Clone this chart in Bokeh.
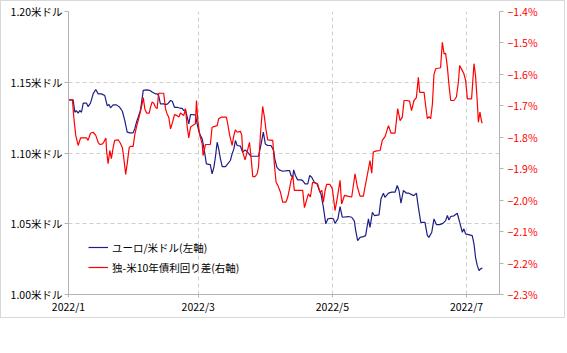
from bokeh.plotting import figure
from bokeh.models import (Range1d, LinearAxis, FixedTicker, CustomJSTickFormatter,
                          ColumnDataSource)
from bokeh.embed import file_html
from bokeh.resources import INLINE

# ---- data (x = days since 2022-01-01) ----
eur_days = [0.0, 2.1, 2.9, 3.6, 4.4, 5.1, 5.9, 6.7, 8.2, 8.9, 10.0, 11.2, 12.4, 13.5, 15.0,
            16.5, 17.6, 18.5, 19.1, 20.3, 21.8, 23.3, 24.5, 25.6, 26.7, 27.9, 29.4, 30.1,
            30.9, 31.7, 32.7, 34.0, 35.5, 37.0, 38.2, 39.5, 40.3, 41.0, 41.8, 43.3, 44.1,
            45.1, 46.4, 47.2, 48.2, 49.4, 50.9, 51.7, 52.4, 53.2, 54.0, 54.7, 55.5, 57.7,
            58.5, 59.2, 60.0, 60.8, 61.5, 62.0, 62.7, 64.5, 65.3, 66.1, 66.8, 67.6, 68.3,
            69.1, 69.9, 71.4, 72.4, 73.6, 74.4, 75.2, 75.9, 76.7, 78.2, 79.2, 80.3, 81.5,
            83.0, 86.4, 87.6, 88.6, 89.5, 90.6, 92.1, 93.3, 93.8, 94.8, 95.8, 97.4, 99.7,
            100.5, 101.2, 102.0, 102.4, 103.2, 104.2, 105.8, 106.5, 107.6, 108.8, 109.7,
            110.6, 111.8, 113.0, 114.1, 114.8, 115.9, 117.0, 117.9, 119.4, 120.5, 121.2,
            122.5, 123.5, 124.5, 127.3, 128.8, 130.0, 130.6, 131.5, 132.6, 134.1, 135.1,
            136.4, 137.1, 138.2, 139.1, 141.2, 142.1, 143.2, 143.9, 145.5, 147.0, 148.5,
            149.5, 150.3, 151.2, 152.3, 153.7, 154.8, 156.0, 157.1, 158.2, 159.1, 160.2,
            162.1, 163.2, 163.9, 165.2, 166.2, 167.3, 168.8, 170.3, 171.5, 172.3, 173.0,
            173.8, 175.3, 176.8, 177.9, 179.1, 179.8, 180.6, 183.6, 184.4, 185.1, 185.9,
            186.7, 187.4, 188.2]
eur_usd = [1.1376, 1.1376, 1.1288, 1.1300, 1.1281, 1.1300, 1.1288, 1.1352, 1.1352, 1.1328,
           1.1352, 1.1418, 1.1449, 1.1418, 1.1418, 1.1406, 1.1335, 1.1342, 1.1319, 1.1340,
           1.1340, 1.1323, 1.1295, 1.1229, 1.1147, 1.1142, 1.1142, 1.1170, 1.1217, 1.1253,
           1.1300, 1.1442, 1.1446, 1.1442, 1.1430, 1.1418, 1.1418, 1.1406, 1.1347, 1.1347,
           1.1342, 1.1347, 1.1371, 1.1366, 1.1323, 1.1323, 1.1316, 1.1316, 1.1300, 1.1305,
           1.1253, 1.1206, 1.1272, 1.1270, 1.1206, 1.1159, 1.1123, 1.1100, 1.1041, 1.0994,
           1.0923, 1.0918, 1.0853, 1.0899, 1.0970, 1.1076, 1.1029, 1.0959, 1.0904, 1.0904,
           1.0923, 1.0947, 1.0994, 1.1029, 1.1088, 1.1053, 1.1048, 1.1005, 1.1022, 1.1005,
           1.0977, 1.0977, 1.1064, 1.1147, 1.1064, 1.1053, 1.1053, 1.1017, 1.0959, 1.0899,
           1.0881, 1.0871, 1.0876, 1.0876, 1.0841, 1.0829, 1.0881, 1.0841, 1.0810, 1.0810,
           1.0805, 1.0782, 1.0782, 1.0841, 1.0829, 1.0793, 1.0782, 1.0735, 1.0711, 1.0617,
           1.0499, 1.0534, 1.0539, 1.0534, 1.0503, 1.0534, 1.0621, 1.0546, 1.0551, 1.0546,
           1.0518, 1.0452, 1.0381, 1.0404, 1.0409, 1.0416, 1.0534, 1.0475, 1.0581, 1.0558,
           1.0563, 1.0676, 1.0716, 1.0687, 1.0716, 1.0723, 1.0723, 1.0770, 1.0735, 1.0645,
           1.0735, 1.0716, 1.0716, 1.0706, 1.0699, 1.0716, 1.0617, 1.0510, 1.0510, 1.0416,
           1.0404, 1.0440, 1.0534, 1.0494, 1.0494, 1.0503, 1.0522, 1.0558, 1.0527, 1.0551,
           1.0556, 1.0574, 1.0510, 1.0440, 1.0464, 1.0428, 1.0416, 1.0358, 1.0263, 1.0204,
           1.0169, 1.0181, 1.0188]

spr_days = [0.0, 1.8, 2.4, 3.3, 4.4, 5.5, 6.7, 8.2, 8.9, 10.0, 11.2, 12.4, 13.5, 14.2, 15.5,
            16.0, 17.0, 17.3, 18.0, 18.8, 19.5, 20.3, 21.0, 22.6, 23.6, 24.5, 25.1, 26.0,
            26.7, 27.6, 28.2, 29.4, 30.1, 30.9, 32.1, 33.2, 34.0, 34.7, 35.5, 36.7, 37.3,
            38.0, 38.8, 39.5, 40.3, 41.0, 43.3, 44.1, 44.8, 45.6, 46.4, 47.2, 48.2, 49.4,
            50.2, 50.9, 52.4, 53.2, 54.0, 54.7, 55.5, 56.3, 57.7, 58.2, 58.8, 59.7, 60.8,
            61.2, 62.3, 64.5, 65.3, 66.1, 67.6, 68.3, 69.4, 71.8, 72.4, 73.3, 74.4, 75.2,
            75.9, 76.7, 78.2, 78.8, 79.2, 80.3, 81.2, 82.3, 83.0, 83.8, 84.8, 85.8, 86.4,
            87.3, 88.3, 89.1, 89.8, 90.6, 92.9, 93.6, 94.4, 95.2, 96.4, 97.4, 98.9, 99.7,
            100.5, 101.2, 102.0, 102.7, 106.5, 107.3, 108.0, 109.1, 110.0, 111.0, 113.3,
            114.4, 115.2, 115.9, 116.7, 117.4, 118.9, 120.0, 121.2, 122.3, 123.5, 124.2,
            125.5, 127.3, 128.8, 130.3, 131.4, 132.6, 134.1, 134.8, 136.0, 137.1, 137.9,
            138.6, 139.7, 141.7, 142.7, 144.0, 145.5, 146.7, 148.5, 149.7, 150.8, 151.8,
            152.6, 154.1, 155.1, 156.0, 157.1, 158.2, 159.1, 159.7, 161.7, 162.4, 163.2,
            163.9, 164.7, 165.5, 166.2, 167.0, 169.2, 170.0, 170.8, 171.5, 172.3, 173.0,
            173.8, 175.3, 176.4, 177.3, 177.9, 179.1, 179.8, 180.6, 181.4, 183.3, 184.4,
            185.1, 185.9, 186.4, 187.1, 187.9, 188.2]
spread = [-1.681, -1.681, -1.736, -1.794, -1.826, -1.802, -1.802, -1.802, -1.810, -1.787,
          -1.784, -1.794, -1.816, -1.823, -1.821, -1.816, -1.802, -1.842, -1.884, -1.842,
          -1.868, -1.833, -1.810, -1.808, -1.819, -1.833, -1.863, -1.918, -1.884, -1.833,
          -1.829, -1.829, -1.794, -1.768, -1.736, -1.704, -1.674, -1.709, -1.723, -1.723,
          -1.704, -1.688, -1.692, -1.704, -1.709, -1.660, -1.660, -1.709, -1.725, -1.736,
          -1.773, -1.755, -1.728, -1.731, -1.736, -1.723, -1.731, -1.709, -1.768, -1.802,
          -1.768, -1.763, -1.757, -1.683, -1.747, -1.794, -1.821, -1.858, -1.823, -1.823,
          -1.768, -1.766, -1.763, -1.741, -1.736, -1.736, -1.757, -1.794, -1.826, -1.794,
          -1.776, -1.784, -1.781, -1.794, -1.847, -1.872, -1.847, -1.816, -1.863, -1.925,
          -1.925, -1.916, -1.895, -1.789, -1.702, -1.736, -1.776, -1.808, -1.810, -1.884,
          -1.943, -1.953, -1.975, -2.006, -2.006, -1.990, -1.964, -1.937, -1.922, -1.969,
          -1.969, -2.024, -2.006, -1.980, -1.990, -1.943, -1.948, -1.975, -1.969, -2.006,
          -1.969, -1.950, -1.950, -1.964, -2.033, -1.990, -1.937, -2.012, -1.985, -1.988,
          -1.990, -1.916, -1.959, -1.987, -1.987, -1.959, -1.916, -1.874, -1.914, -1.847,
          -1.844, -1.842, -1.810, -1.797, -1.763, -1.787, -1.787, -1.709, -1.747, -1.736,
          -1.683, -1.683, -1.685, -1.715, -1.683, -1.674, -1.609, -1.657, -1.657, -1.699,
          -1.741, -1.734, -1.741, -1.694, -1.600, -1.582, -1.579, -1.498, -1.535, -1.533,
          -1.577, -1.632, -1.683, -1.683, -1.672, -1.625, -1.572, -1.588, -1.598, -1.619,
          -1.678, -1.678, -1.566, -1.604, -1.688, -1.752, -1.720, -1.752, -1.755]

x_tick_days = [0, 59, 120, 181]
x_tick_labels = ["2022/1", "2022/3", "2022/5", "2022/7"]
left_ticks = [1.00, 1.05, 1.10, 1.15, 1.20]
right_ticks = [-2.3, -2.2, -2.1, -2.0, -1.9, -1.8, -1.7, -1.6, -1.5, -1.4]
label_eur = "ユーロ/米ドル(左軸)"
label_spr = "独-米10年債利回り差(右軸)"

FONT = "Noto Sans CJK JP"
FS = "10.5px"
BLUE = "#1e1e88"
RED = "#ff0000"
AXIS_C = "#b4b4b4"
GRID_C = "#cfcfcf"

p = figure(width=565, height=318, output_backend="svg", toolbar_location=None,
           x_range=Range1d(0, 196), y_range=Range1d(1.0, 1.2),
           min_border_left=67, min_border_right=67, min_border_top=10,
           min_border_bottom=25)
p.styles = {"border": "1px solid #d9d9d9"}
p.outline_line_color = None
p.extra_y_ranges = {"right": Range1d(-2.3, -1.4)}

src_e = ColumnDataSource(dict(x=eur_days, y=eur_usd))
src_s = ColumnDataSource(dict(x=spr_days, y=spread))
p.line("x", "y", source=src_e, color=BLUE, line_width=1.2, legend_label=label_eur)
p.line("x", "y", source=src_s, color=RED, line_width=1.2, y_range_name="right",
       legend_label=label_spr)

# x axis
xa = p.xaxis[0]
xa.ticker = FixedTicker(ticks=x_tick_days)
xa.major_label_overrides = {d: l for d, l in zip(x_tick_days, x_tick_labels)}
xa.minor_tick_line_color = None
xa.major_tick_in = 0
xa.major_tick_out = 3
xa.major_label_standoff = 1

# left y axis
ya = p.yaxis[0]
ya.ticker = FixedTicker(ticks=left_ticks)
ya.formatter = CustomJSTickFormatter(code="return tick.toFixed(2) + '米ドル';")
ya.minor_tick_line_color = None
ya.major_tick_in = 0
ya.major_tick_out = 4
ya.major_label_standoff = 2

# right y axis
ra = LinearAxis(y_range_name="right", ticker=FixedTicker(ticks=right_ticks),
                formatter=CustomJSTickFormatter(
                    code="return '\u2212' + Math.abs(tick).toFixed(1) + '%';"))
ra.minor_tick_line_color = None
ra.major_tick_in = 0
ra.major_tick_out = 4
ra.major_label_standoff = 4
ra.major_label_text_color = RED
p.add_layout(ra, "right")

for ax in (xa, ya, ra):
    ax.axis_line_color = AXIS_C
    ax.major_tick_line_color = AXIS_C
    ax.major_label_text_font = FONT
    ax.major_label_text_font_size = FS
    if ax is not ra:
        ax.major_label_text_color = "#000000"

p.xgrid.grid_line_color = GRID_C
p.xgrid.grid_line_dash = "4 3"
p.ygrid.grid_line_color = GRID_C
p.ygrid.grid_line_dash = "4 3"

lg = p.legend[0]
lg.location = (20, 17)
lg.padding = 0
lg.margin = 0
lg.spacing = 0
lg.label_height = 20
lg.glyph_height = 20
lg.glyph_width = 20
lg.label_standoff = 4
lg.background_fill_alpha = 0
lg.border_line_alpha = 0
lg.label_text_font = FONT
lg.label_text_font_size = FS
lg.label_text_color = "#000000"

open("out.html", "w").write(file_html(p, INLINE))
